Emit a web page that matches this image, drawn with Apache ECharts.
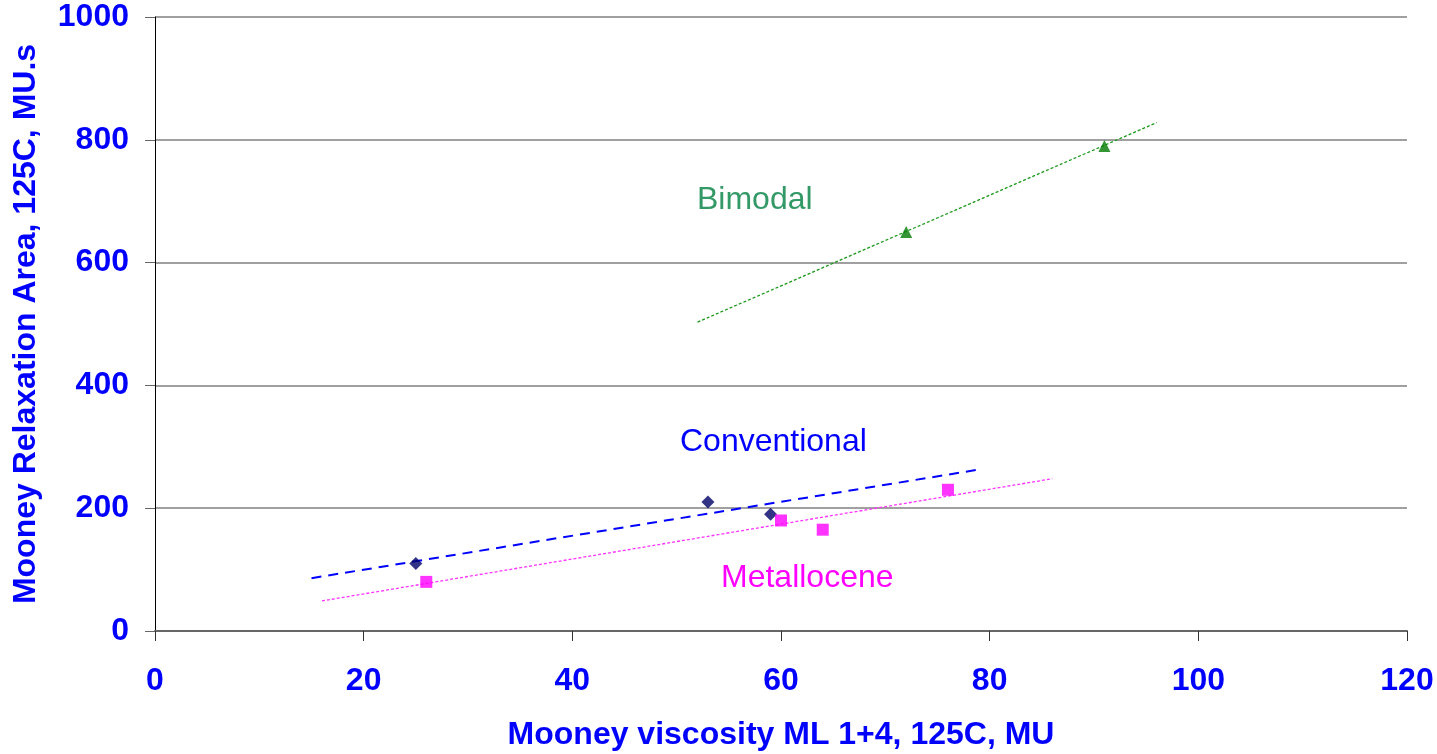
<!DOCTYPE html>
<html>
<head>
<meta charset="utf-8">
<script src="https://cdn.jsdelivr.net/npm/echarts@6/dist/echarts.min.js"></script>
<style>
  html, body { margin: 0; padding: 0; background: #fff; }
  #chart { width: 1437px; height: 754px; }
</style>
</head>
<body>
<div id="chart"></div>
<script>
// measured points
var conventional = [[25, 110], [53, 210], [59, 190]];
var metallocene = [[26, 80], [60, 180], [64, 165], [76, 230]];
var bimodal = [[72, 650], [91, 790]];

// trend line end points
var conventionalTrend = [[15, 86], [79, 263]];
var metalloceneTrend = [[16, 49], [86, 248]];
var bimodalTrend = [[52, 503], [96, 828]];

var xTicks = [0, 20, 40, 60, 80, 100, 120];
var yTicks = [0, 200, 400, 600, 800, 1000];

var font = 'Liberation Sans, Arial, sans-serif';
var myChart = echarts.init(document.getElementById('chart'));

function trend(data, color, type, width) {
  return {
    type: 'line',
    data: data,
    symbol: 'none',
    silent: true,
    z: 2,
    lineStyle: { color: color, type: type, width: width }
  };
}

var option = {
  animation: false,
  backgroundColor: '#fff',
  grid: { left: 155, right: 30, top: 17, bottom: 123, outerBoundsMode: 'none', containLabel: false },
  xAxis: {
    type: 'value',
    min: xTicks[0],
    max: xTicks[xTicks.length - 1],
    interval: 20,
    name: 'Mooney viscosity ML 1+4, 125C, MU',
    nameLocation: 'middle',
    nameGap: 88,
    nameTextStyle: { color: '#0000ff', fontWeight: 'bold', fontSize: 32, fontFamily: font },
    axisLine: { show: true, lineStyle: { color: '#666', width: 2 } },
    axisTick: { show: true, inside: false, length: 10, lineStyle: { color: '#333' } },
    axisLabel: { color: '#0000ff', fontWeight: 'bold', fontSize: 32, fontFamily: font, margin: 34,
      formatter: function (v) { return String(v); } },
    splitLine: { show: false }
  },
  yAxis: {
    type: 'value',
    min: yTicks[0],
    max: yTicks[yTicks.length - 1],
    interval: 200,
    name: 'Mooney Relaxation Area, 125C, MU.s',
    nameLocation: 'middle',
    nameGap: 113,
    nameRotate: 90,
    nameTextStyle: { color: '#0000ff', fontWeight: 'bold', fontSize: 32, fontFamily: font },
    axisLine: { show: true, onZero: false, lineStyle: { color: '#000', width: 1 } },
    axisTick: { show: true, inside: false, length: 10, lineStyle: { color: '#666' } },
    axisLabel: { color: '#0000ff', fontWeight: 'bold', fontSize: 32, fontFamily: font, margin: 26,
      formatter: function (v) { return String(v); } },
    splitLine: { show: true, lineStyle: { color: '#808080', width: 1.5 } }
  },
  series: [
    trend(conventionalTrend, '#0000ff', [10, 7], 2),
    trend(metalloceneTrend, '#ff33ff', [3, 2], 1.3),
    trend(bimodalTrend, '#1a9a1a', [3, 2], 1.3),
    {
      name: 'Conventional',
      type: 'scatter',
      data: conventional,
      symbol: 'diamond',
      symbolSize: 13,
      itemStyle: { color: '#000066' },
      z: 3
    },
    {
      name: 'Metallocene',
      type: 'scatter',
      data: metallocene,
      symbol: 'rect',
      symbolSize: 12,
      itemStyle: { color: '#ff00ff' },
      z: 3
    },
    {
      name: 'Bimodal',
      type: 'scatter',
      data: bimodal,
      symbol: 'triangle',
      symbolSize: 12,
      itemStyle: { color: '#007a00' },
      z: 3
    }
  ],
  graphic: [
    { type: 'text', left: 697, top: 184, style: { text: 'Bimodal', fill: '#339966', font: '32px ' + font } },
    { type: 'text', left: 680, top: 426, style: { text: 'Conventional', fill: '#0000ff', font: '32px ' + font } },
    { type: 'text', left: 721, top: 562, style: { text: 'Metallocene', fill: '#ff00ff', font: '32px ' + font } }
  ]
};

myChart.setOption(option);
</script>
</body>
</html>
